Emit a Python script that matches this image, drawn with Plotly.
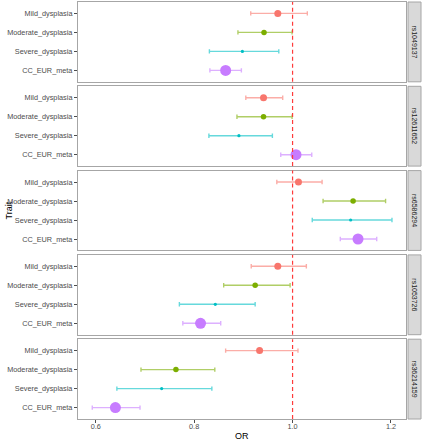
import plotly.graph_objects as go

snps = ["rs1049137", "rs12611652", "rs6586294", "rs1053726", "rs36214159"]
traits = ["Mild_dysplasia", "Moderate_dysplasia", "Severe_dysplasia", "CC_EUR_meta"]

# OR, lower CI, upper CI per SNP, in trait order
or_vals = [
    [0.970, 0.942, 0.898, 0.864],
    [0.941, 0.941, 0.891, 1.007],
    [1.012, 1.123, 1.118, 1.133],
    [0.970, 0.924, 0.843, 0.813],
    [0.933, 0.763, 0.734, 0.640],
]
ci_low = [
    [0.915, 0.889, 0.831, 0.832],
    [0.905, 0.887, 0.830, 0.976],
    [0.968, 1.062, 1.040, 1.097],
    [0.916, 0.860, 0.770, 0.777],
    [0.864, 0.692, 0.643, 0.593],
]
ci_high = [
    [1.030, 0.999, 0.972, 0.896],
    [0.980, 0.999, 0.959, 1.039],
    [1.060, 1.189, 1.202, 1.171],
    [1.028, 0.995, 0.924, 0.854],
    [1.011, 0.842, 0.836, 0.690],
]
x_ticks = [0.6, 0.8, 1.0, 1.2]

colors = ["#F8766D", "#7CAE00", "#00BFC4", "#C77CFF"]
err_colors = ["rgba(248,118,109,0.6)", "rgba(124,174,0,0.6)",
              "rgba(0,191,196,0.6)", "rgba(199,124,255,0.6)"]
msizes = [7, 5.5, 3.2, 11]

W, H = 422, 440
ml, mr, mt, mb = 78, 1, 2, 21
plot_h = H - mt - mb
gap = 4.5
ph = (plot_h - 4 * gap) / 5
x_dom_end = (406 - ml) / (W - ml - mr)

fig = go.Figure()
layout = dict(
    width=W, height=H,
    margin=dict(l=ml, r=mr, t=mt, b=mb),
    plot_bgcolor="white", paper_bgcolor="white",
    showlegend=False,
    font=dict(family="Liberation Sans, Arial, sans-serif", size=7.3, color="#4D4D4D"),
)
shapes = []
annotations = []
xrange = [0.564, 1.2305]
border = "#A6A6A6"

for i, snp in enumerate(snps):
    n = i + 1
    top_px = i * (ph + gap)
    d1 = 1 - top_px / plot_h
    d0 = 1 - (top_px + ph) / plot_h
    xa = "x" if n == 1 else f"x{n}"
    ya = "y" if n == 1 else f"y{n}"
    for j, t in enumerate(traits):
        o = or_vals[i][j]
        fig.add_trace(go.Scatter(
            x=[o], y=[t], xaxis=xa, yaxis=ya, mode="markers",
            marker=dict(color=colors[j], size=msizes[j], line=dict(width=0)),
            error_x=dict(type="data", symmetric=False,
                         array=[ci_high[i][j] - o], arrayminus=[o - ci_low[i][j]],
                         color=err_colors[j], thickness=1.4, width=2.2),
            hoverinfo="skip",
        ))
    xkey = "xaxis" if n == 1 else f"xaxis{n}"
    ykey = "yaxis" if n == 1 else f"yaxis{n}"
    last = n == len(snps)
    layout[xkey] = dict(
        domain=[0, x_dom_end], anchor=ya, range=xrange,
        tickvals=x_ticks, ticktext=[f"{v:.1f}" for v in x_ticks],
        showticklabels=last, ticks="outside" if last else "", ticklen=3,
        tickcolor="#4D4D4D", showgrid=False, zeroline=False,
        showline=True, mirror=True, linecolor=border, linewidth=1.2,
        tickfont=dict(size=7.3, color="#4D4D4D"), automargin=False,
        ticklabelstandoff=-3,
        **({} if n == 1 else {"matches": "x"}),
    )
    layout[ykey] = dict(
        domain=[d0, d1], anchor=xa, type="category",
        categoryorder="array", categoryarray=traits[::-1],
        range=[-0.6, 3.6], ticks="outside", ticklen=3, tickcolor="#4D4D4D",
        showgrid=False, zeroline=False, automargin=False,
        showline=True, mirror=True, linecolor=border, linewidth=1.2,
        tickfont=dict(size=7.3, color="#4D4D4D"),
    )
    # reference line at OR = 1
    shapes.append(dict(type="line", xref=xa, yref=f"{ya} domain",
                       x0=1.0, x1=1.0, y0=0, y1=1,
                       line=dict(color="#FF3B3B", width=1.2, dash="4px,3px")))
    # strip
    sx0 = (408 - ml) / (W - ml - mr)
    shapes.append(dict(type="rect", xref="paper", yref="paper",
                       x0=sx0, x1=1.0, y0=d0, y1=d1,
                       fillcolor="#D9D9D9", line=dict(color=border, width=1)))
    annotations.append(dict(xref="paper", yref="paper",
                            x=(sx0 + 1.0) / 2, y=(d0 + d1) / 2,
                            text=snp, textangle=90, showarrow=False,
                            font=dict(size=7, color="#1A1A1A"),
                            xanchor="center", yanchor="middle"))

annotations.append(dict(xref="paper", yref="paper", x=x_dom_end / 2, y=0,
                        yshift=-10, text="OR", showarrow=False,
                        xanchor="center", yanchor="top",
                        font=dict(size=9, color="black")))
annotations.append(dict(xref="paper", yref="paper", x=0, xshift=-70, y=0.5,
                        text="Trait", textangle=-90, showarrow=False,
                        xanchor="center", yanchor="middle",
                        font=dict(size=9, color="black")))

layout["shapes"] = shapes
layout["annotations"] = annotations
fig.update_layout(**layout)
fig.write_html("out.html", config={"displayModeBar": False},
               post_script="document.body.style.margin='0';document.body.style.overflow='hidden';")
